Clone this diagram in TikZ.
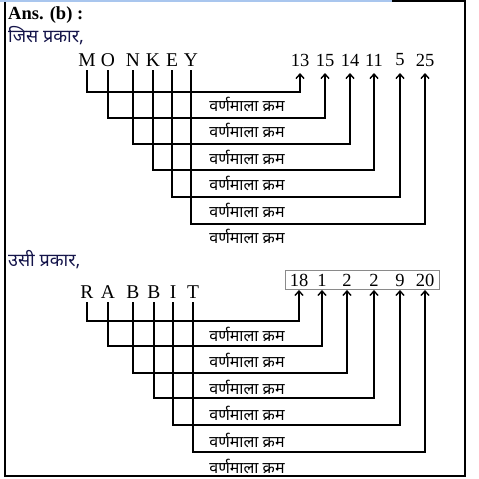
\documentclass[tikz,border=0pt]{standalone}
\usepackage{fontspec}
\setmainfont{Liberation Serif}
\newfontfamily\dev[Script=Devanagari]{Noto Sans}
\usetikzlibrary{arrows.meta}
\definecolor{navy}{HTML}{14144A}
\definecolor{topblue}{HTML}{A9C6EE}
\definecolor{boxgray}{HTML}{8A8A8A}
\tikzset{
  letter/.style={font=\fontsize{19.5}{19.5}\selectfont, inner sep=0pt, anchor=center},
  num/.style={font=\fontsize{18.5}{18.5}\selectfont, inner sep=0pt, anchor=center},
  lbl/.style={font=\dev\fontsize{16}{16}\selectfont, inner sep=0pt, anchor=center},
  head/.style={font=\dev\fontsize{18}{18}\selectfont, text=navy, inner sep=0pt, anchor=west},
  conn/.style={line width=1.7pt, -{Straight Barb[length=4.5pt,width=8pt,line width=1.4pt]}},
}
\begin{document}
\begin{tikzpicture}[x=1pt,y=-1pt]
\useasboundingbox (0,0) rectangle (479,479);
% frame
\draw[line width=1.2pt] (5,1) rectangle (465,476);
\draw[topblue, line width=1.5pt] (0,0.75) -- (392,0.75);
% headings
\node[font=\bfseries\fontsize{18.5}{18.5}\selectfont, inner sep=0pt, anchor=west] (ans) at (8,15) {Ans. (b) :};
\node[head] (h1) at (8,36) {जिस प्रकार,};
\node[head] (h2) at (8,260) {उसी प्रकार,};
% ---------- MONKEY ----------
\foreach \n/\t/\x in {1/M/87, 2/O/108, 3/N/133, 4/K/153, 5/E/172, 6/Y/191}
  \node[letter] (a\n) at (\x,60) {\t};
\foreach \n/\t/\x in {1/13/300, 2/15/325, 3/14/350, 4/11/374, 5/5/400, 6/25/425}
  \node[num] (b\n) at (\x,60) {\t};
\foreach \n/\y in {1/92, 2/118, 3/144, 4/170, 5/197, 6/224}
  \draw[conn] (a\n.center |- 0,70) |- (b\n.center |- 0,\y) -- (b\n.center |- 0,73);
\foreach \n/\y in {1/104.5, 2/130.5, 3/157.5, 4/183.5, 5/210.5, 6/236.5}
  \node[lbl] (c\n) at (247,\y) {वर्णमाला क्रम};
% ---------- RABBIT ----------
\foreach \n/\t/\x in {1/R/87, 2/A/108, 3/B/133, 4/B/154, 5/I/173, 6/T/193}
  \node[letter] (d\n) at (\x,292) {\t};
\node[draw=boxgray, line width=0.9pt, minimum width=154pt, minimum height=19pt, inner sep=0pt] (box) at (362,280) {};
\foreach \n/\t/\x in {1/18/299, 2/1/322, 3/2/347, 4/2/374, 5/9/400, 6/20/425}
  \node[num] (e\n) at (\x,280) {\t};
\foreach \n/\y in {1/321, 2/346, 3/373, 4/398, 5/425, 6/452}
  \draw[conn] (d\n.center |- 0,302) |- (e\n.center |- 0,\y) -- (e\n.center |- box.south);
\foreach \n/\y in {1/334.5, 2/360.5, 3/387.5, 4/413.5, 5/440.5, 6/466}
  \node[lbl] (f\n) at (247,\y) {वर्णमाला क्रम};
\end{tikzpicture}
\end{document}
